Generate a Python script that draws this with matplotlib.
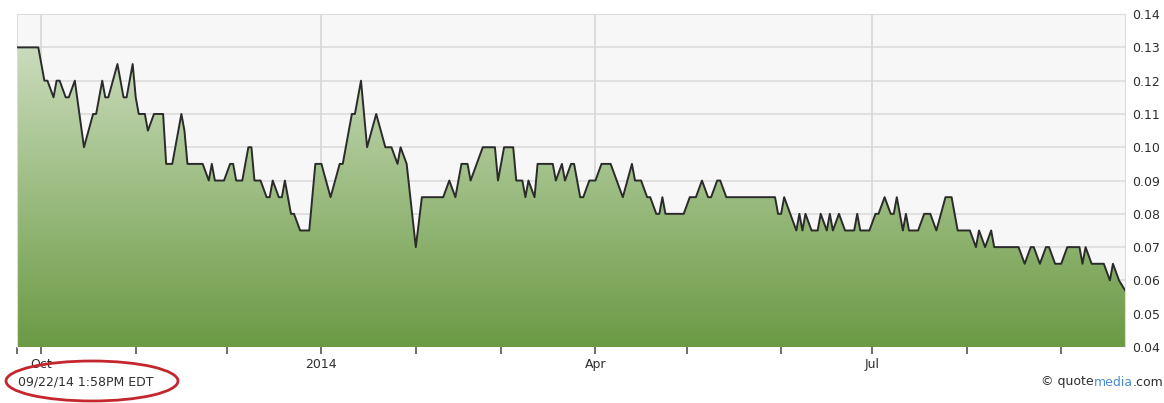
import pandas as pd
import numpy as np
import matplotlib
matplotlib.use('Agg')
import matplotlib.pyplot as plt
import matplotlib.dates as mdates
from matplotlib.colors import LinearSegmentedColormap
from matplotlib.patches import Ellipse

# daily close (turning points only)
dates = [
    '2013-09-23', '2013-09-30', '2013-10-02', '2013-10-03', '2013-10-05', '2013-10-06',
    '2013-10-07', '2013-10-09', '2013-10-10', '2013-10-12', '2013-10-15', '2013-10-18',
    '2013-10-19', '2013-10-21', '2013-10-22', '2013-10-23', '2013-10-26', '2013-10-28',
    '2013-10-29', '2013-10-31', '2013-11-01', '2013-11-02', '2013-11-04', '2013-11-05',
    '2013-11-07', '2013-11-10', '2013-11-11', '2013-11-13', '2013-11-14', '2013-11-16',
    '2013-11-17', '2013-11-18', '2013-11-23', '2013-11-25', '2013-11-26', '2013-11-27',
    '2013-11-30', '2013-12-02', '2013-12-03', '2013-12-04', '2013-12-06', '2013-12-08',
    '2013-12-09', '2013-12-10', '2013-12-12', '2013-12-14', '2013-12-15', '2013-12-16',
    '2013-12-18', '2013-12-19', '2013-12-20', '2013-12-22', '2013-12-23', '2013-12-25',
    '2013-12-28', '2013-12-30', '2014-01-01', '2014-01-04', '2014-01-07', '2014-01-08',
    '2014-01-10', '2014-01-11', '2014-01-12', '2014-01-14', '2014-01-16', '2014-01-19',
    '2014-01-22', '2014-01-24', '2014-01-26', '2014-01-27', '2014-01-29', '2014-02-01',
    '2014-02-03', '2014-02-10', '2014-02-12', '2014-02-14', '2014-02-16', '2014-02-18',
    '2014-02-19', '2014-02-23', '2014-02-27', '2014-02-28', '2014-03-02', '2014-03-05',
    '2014-03-06', '2014-03-08', '2014-03-09', '2014-03-10', '2014-03-12', '2014-03-13',
    '2014-03-18', '2014-03-19', '2014-03-21', '2014-03-22', '2014-03-24', '2014-03-25',
    '2014-03-27', '2014-03-28', '2014-03-30', '2014-04-01', '2014-04-03', '2014-04-06',
    '2014-04-10', '2014-04-13', '2014-04-14', '2014-04-16', '2014-04-18', '2014-04-19',
    '2014-04-21', '2014-04-22', '2014-04-23', '2014-04-24', '2014-04-30', '2014-05-02',
    '2014-05-04', '2014-05-06', '2014-05-08', '2014-05-09', '2014-05-11', '2014-05-12',
    '2014-05-14', '2014-05-30', '2014-05-31', '2014-06-01', '2014-06-02', '2014-06-04',
    '2014-06-06', '2014-06-07', '2014-06-08', '2014-06-09', '2014-06-11', '2014-06-13',
    '2014-06-14', '2014-06-16', '2014-06-17', '2014-06-18', '2014-06-20', '2014-06-22',
    '2014-06-25', '2014-06-26', '2014-06-27', '2014-06-30', '2014-07-02', '2014-07-03',
    '2014-07-05', '2014-07-07', '2014-07-08', '2014-07-09', '2014-07-11', '2014-07-12',
    '2014-07-13', '2014-07-16', '2014-07-18', '2014-07-20', '2014-07-22', '2014-07-25',
    '2014-07-27', '2014-07-29', '2014-08-02', '2014-08-04', '2014-08-05', '2014-08-07',
    '2014-08-09', '2014-08-10', '2014-08-18', '2014-08-20', '2014-08-22', '2014-08-23',
    '2014-08-25', '2014-08-27', '2014-08-28', '2014-08-30', '2014-09-01', '2014-09-03',
    '2014-09-07', '2014-09-08', '2014-09-09', '2014-09-11', '2014-09-15', '2014-09-17',
    '2014-09-18', '2014-09-20', '2014-09-22',
]
prices = [
    0.13, 0.13, 0.12, 0.12, 0.115, 0.12,
    0.12, 0.115, 0.115, 0.12, 0.10, 0.11,
    0.11, 0.12, 0.115, 0.115, 0.125, 0.115,
    0.115, 0.125, 0.115, 0.11, 0.11, 0.105,
    0.11, 0.11, 0.095, 0.095, 0.10, 0.11,
    0.105, 0.095, 0.095, 0.09, 0.095, 0.09,
    0.09, 0.095, 0.095, 0.09, 0.09, 0.10,
    0.10, 0.09, 0.09, 0.085, 0.085, 0.09,
    0.085, 0.085, 0.09, 0.08, 0.08, 0.075,
    0.075, 0.095, 0.095, 0.085, 0.095, 0.095,
    0.105, 0.11, 0.11, 0.12, 0.10, 0.11,
    0.10, 0.10, 0.095, 0.10, 0.095, 0.07,
    0.085, 0.085, 0.09, 0.085, 0.095, 0.095,
    0.09, 0.10, 0.10, 0.09, 0.10, 0.10,
    0.09, 0.09, 0.085, 0.09, 0.085, 0.095,
    0.095, 0.09, 0.095, 0.09, 0.095, 0.095,
    0.085, 0.085, 0.09, 0.09, 0.095, 0.095,
    0.085, 0.095, 0.09, 0.09, 0.085, 0.085,
    0.08, 0.08, 0.085, 0.08, 0.08, 0.085,
    0.085, 0.09, 0.085, 0.085, 0.09, 0.09,
    0.085, 0.085, 0.08, 0.08, 0.085, 0.08,
    0.075, 0.08, 0.075, 0.08, 0.075, 0.075,
    0.08, 0.075, 0.08, 0.075, 0.08, 0.075,
    0.075, 0.08, 0.075, 0.075, 0.08, 0.08,
    0.085, 0.08, 0.08, 0.085, 0.075, 0.08,
    0.075, 0.075, 0.08, 0.08, 0.075, 0.085,
    0.085, 0.075, 0.075, 0.07, 0.075, 0.07,
    0.075, 0.07, 0.07, 0.065, 0.07, 0.07,
    0.065, 0.07, 0.07, 0.065, 0.065, 0.07,
    0.07, 0.065, 0.07, 0.065, 0.065, 0.06,
    0.065, 0.06, 0.057,
]
y_ticks = [0.04, 0.05, 0.06, 0.07, 0.08, 0.09, 0.10, 0.11, 0.12, 0.13, 0.14]
month_ticks = ['2013-09-23', '2013-10-01', '2013-11-01', '2013-12-01', '2014-01-01',
               '2014-02-01', '2014-03-01', '2014-04-01', '2014-05-01', '2014-06-01',
               '2014-07-01', '2014-08-01', '2014-09-01']
label_dates = ['2013-10-01', '2014-01-01', '2014-04-01', '2014-07-01']
label_text = ['Oct', '2014', 'Apr', 'Jul']

df = pd.DataFrame({'date': pd.to_datetime(dates), 'price': prices})
x = mdates.date2num(df['date'])
y = df['price'].values

plt.rcParams['font.family'] = ['DejaVu Sans']
fig = plt.figure(figsize=(11.64, 4.03), dpi=100)
ax = fig.add_axes([0.0146, 0.139, 0.952, 0.826])
ax.set_facecolor('#f7f7f7')

x0, x1 = x[0], x[-1]
ax.set_xlim(x0, x1)
ax.set_ylim(0.04, 0.14)

# grid
for v in y_ticks:
    ax.axhline(v, color='#dadada', lw=1.1, zorder=1)
for d in label_dates:
    ax.axvline(mdates.date2num(pd.Timestamp(d)), color='#d5d5d5', lw=1.1, zorder=1)

# gradient fill under the line
grad = LinearSegmentedColormap.from_list('g', ['#6b9a44', '#9dbd83', '#d0dfc3'])
img = ax.imshow(np.linspace(0, 1, 256).reshape(-1, 1), cmap=grad, aspect='auto',
                origin='lower', extent=[x0, x1, 0.04, 0.135], zorder=2)
poly = ax.fill_between(x, y, 0.04, color='none', lw=0)
clip = poly.get_paths()[0]
img.set_clip_path(clip, transform=ax.transData)
ax.plot(x, y, color='#2b2b2b', lw=1.4, zorder=3)

for s in ax.spines.values():
    s.set_color('#dcdcdc')
ax.spines['bottom'].set_visible(False)

ax.yaxis.tick_right()
ax.set_yticks(y_ticks)
ax.set_yticklabels(['%.2f' % v for v in y_ticks], fontsize=9, color='#2e2e2e')
ax.tick_params(axis='y', length=0, pad=5)

ax.set_xticks(mdates.date2num(pd.to_datetime(month_ticks)))
ax.set_xticklabels([])
ax.tick_params(axis='x', length=5, width=1.2, color='#555555', direction='out', pad=2)

for d, t in zip(label_dates, label_text):
    ax.text(mdates.date2num(pd.Timestamp(d)), -0.052, t, transform=ax.get_xaxis_transform(),
            ha='center', va='center', fontsize=9, color='#2e2e2e')

fig.text(18 / 1164, 1 - 382 / 403, '09/22/14 1:58PM EDT', ha='left', va='center',
         fontsize=9, color='#2e2e2e')
fig.add_artist(Ellipse((92 / 1164, 1 - 381 / 403), 172 / 1164, 40 / 403,
                       transform=fig.transFigure, fill=False, ec='#c4262e', lw=2))

t1 = fig.text(1041 / 1164, 1 - 382 / 403, '\u00a9 quote', ha='left', va='center',
              fontsize=9, color='#2e2e2e')
fig.canvas.draw()
bb = t1.get_window_extent()
t2 = fig.text(bb.x1 / 1164, 1 - 382 / 403, 'media', ha='left', va='center',
              fontsize=9, color='#4a8bd0')
bb = t2.get_window_extent()
fig.text(bb.x1 / 1164, 1 - 382 / 403, '.com', ha='left', va='center',
         fontsize=9, color='#2e2e2e')

fig.savefig('out.png', dpi=100)
